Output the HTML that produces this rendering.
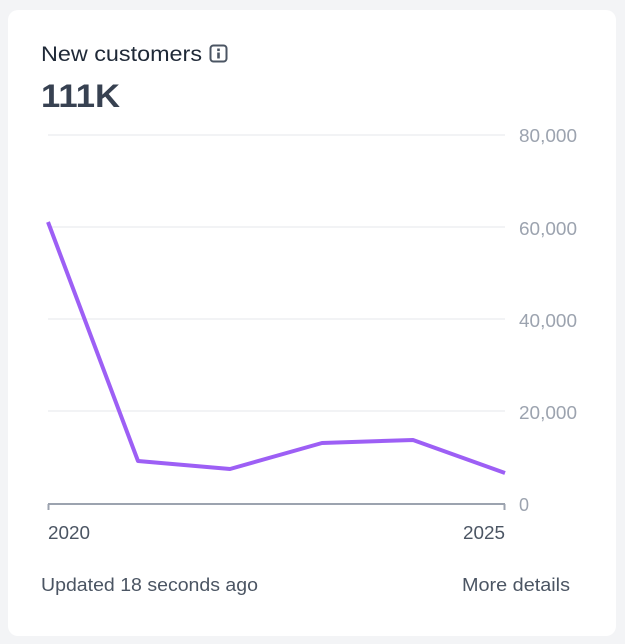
<!DOCTYPE html>
<html><head><style>
body{margin:0;width:625px;height:644px;background:#f3f4f6;font-family:"Liberation Sans",sans-serif;overflow:hidden}
.card{position:absolute;left:8px;top:10px;width:608px;height:626px;background:#fff;border-radius:10px}
</style></head><body>
<div class="card"></div>
<svg width="625" height="644" style="position:absolute;left:0;top:0">
<text x="41" y="61" font-size="21" fill="#1f2937" textLength="161" lengthAdjust="spacingAndGlyphs">New customers</text>
<rect x="210.5" y="45.5" width="16" height="16" rx="3" fill="none" stroke="#4b5563" stroke-width="2"/>
<rect x="217.2" y="48.5" width="2.6" height="2.6" fill="#4b5563"/>
<rect x="217.2" y="52.5" width="2.6" height="6" fill="#4b5563"/>
<text x="41" y="107" font-size="32" font-weight="bold" fill="#374151" textLength="79" lengthAdjust="spacingAndGlyphs">111K</text>
<g stroke="#e5e7eb" stroke-width="1">
<line x1="48" y1="135" x2="505" y2="135"/><line x1="48" y1="227" x2="505" y2="227"/>
<line x1="48" y1="319" x2="505" y2="319"/><line x1="48" y1="411" x2="505" y2="411"/>
</g>
<path d="M48 504H505M48.5 504V510M504.5 504V510" stroke="#9ca3af" stroke-width="2" fill="none"/>
<g font-size="18" fill="#9ca3af">
<text x="519" y="142" textLength="58" lengthAdjust="spacingAndGlyphs">80,000</text>
<text x="519" y="235" textLength="58" lengthAdjust="spacingAndGlyphs">60,000</text>
<text x="519" y="327" textLength="58" lengthAdjust="spacingAndGlyphs">40,000</text>
<text x="519" y="419" textLength="58" lengthAdjust="spacingAndGlyphs">20,000</text>
<text x="519" y="511">0</text>
</g>
<polyline points="48,222 138,461 230,469 322,443 413,440 505,473" fill="none" stroke="#9d5ff5" stroke-width="4" stroke-linejoin="round"/>
<text x="48" y="539" font-size="18" fill="#4b5563" textLength="42" lengthAdjust="spacingAndGlyphs">2020</text>
<text x="463" y="539" font-size="18" fill="#4b5563" textLength="42" lengthAdjust="spacingAndGlyphs">2025</text>
<text x="41" y="591" font-size="18" fill="#4b5563" textLength="217" lengthAdjust="spacingAndGlyphs">Updated 18 seconds ago</text>
<text x="462" y="591" font-size="18" fill="#4b5563" textLength="108" lengthAdjust="spacingAndGlyphs">More details</text>
</svg>
</body></html>
